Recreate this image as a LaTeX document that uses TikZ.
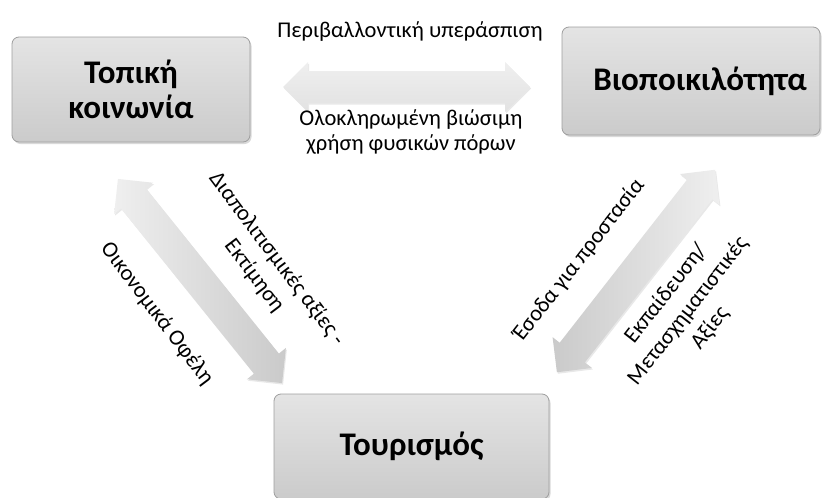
\documentclass[tikz,border=0pt]{standalone}
\usepackage{fontspec}
\setmainfont{Carlito}
\usetikzlibrary{shadows}

\definecolor{boxtop}{HTML}{E4E4E4}
\definecolor{boxbot}{HTML}{CBCBCB}
\definecolor{boxedge}{HTML}{9E9E9E}
\definecolor{arrlight}{HTML}{EFEFEF}
\definecolor{arrmid}{HTML}{E2E2E2}
\definecolor{arrdark}{HTML}{CACACA}

% outline of a two-headed block arrow along the local x axis, half length #1
\newcommand{\twoheadoutline}[1]{%
  (-#1,0) -- (-#1+25,-25) -- (-#1+25,-16) -- (#1-25,-16) -- (#1-25,-25) --
  (#1,0) -- (#1-25,25) -- (#1-25,16) -- (-#1+25,16) -- (-#1+25,25) -- cycle}

\begin{document}
\begin{tikzpicture}[x=1pt,y=-1pt,
  box/.style={draw=boxedge, line width=0.8pt, rounded corners=7pt,
    top color=boxtop, bottom color=boxbot,
    drop shadow={opacity=0.3, shadow xshift=1.5pt, shadow yshift=-2pt},
    inner sep=0pt},
  boxtext/.style={font=\fontsize{33}{35}\selectfont\bfseries, align=center, inner sep=0pt},
  lbl/.style={font=\fontsize{22.5}{25}\selectfont, align=center, inner sep=0pt},
  rlbl/.style={font=\fontsize{22.5}{28}\selectfont, align=center, inner sep=0pt},
  blockarrow/.style={drop shadow={opacity=0.18, shadow xshift=1pt, shadow yshift=-1.5pt}}]

\useasboundingbox (0,0) rectangle (822,498);

% the three actors
\node[box, minimum width=238pt, minimum height=105pt] (local) at (131,89.5) {};
\node[boxtext] (localtxt) at (131,89.5) {Τοπική\\κοινωνία};

\node[box, minimum width=258pt, minimum height=108pt] (bio) at (691,81) {};
\node[boxtext] (biotxt) at (700,81) {Βιοποικιλότητα};

\node[box, minimum width=275pt, minimum height=105pt] (tour) at (411.5,446.5) {};
\node[boxtext] (tourtxt) at (411.5,446.5) {Τουρισμός};

% two-way relations drawn as block arrows
\begin{scope}[shift={(406.5,87)}]
  \path[blockarrow, top color=arrlight, bottom color=arrmid] \twoheadoutline{123.5};
\end{scope}
\begin{scope}[shift={(200,281)}, rotate=-51.2]
  \path[blockarrow, left color=arrlight, right color=arrdark] \twoheadoutline{131};
\end{scope}
\begin{scope}[shift={(636,271)}, rotate=52]
  \path[blockarrow, left color=arrdark, right color=arrlight] \twoheadoutline{128.5};
\end{scope}

% relation labels
\node[lbl, anchor=base] (envtop) at (410,37) {Περιβαλλοντική υπεράσπιση};
\node[lbl, anchor=base] (envbot) at (411,150) {Ολοκληρωμένη βιώσιμη\\χρήση φυσικών πόρων};

\node[rlbl, rotate=-53] (econ) at (157,314) {Οικονομικά Οφέλη};
\node[rlbl, rotate=-53] (cult) at (265.5,267.5) {Διαπολιτισμικές αξίες -\\Εκτίμηση};

\node[rlbl, rotate=52] (income) at (579,260) {Έσοδα για προστασία};
\node[rlbl, rotate=52] (edu) at (688,311) {Εκπαίδευση/\\Μετασχηματιστικές\\Αξίες};

\end{tikzpicture}
\end{document}
